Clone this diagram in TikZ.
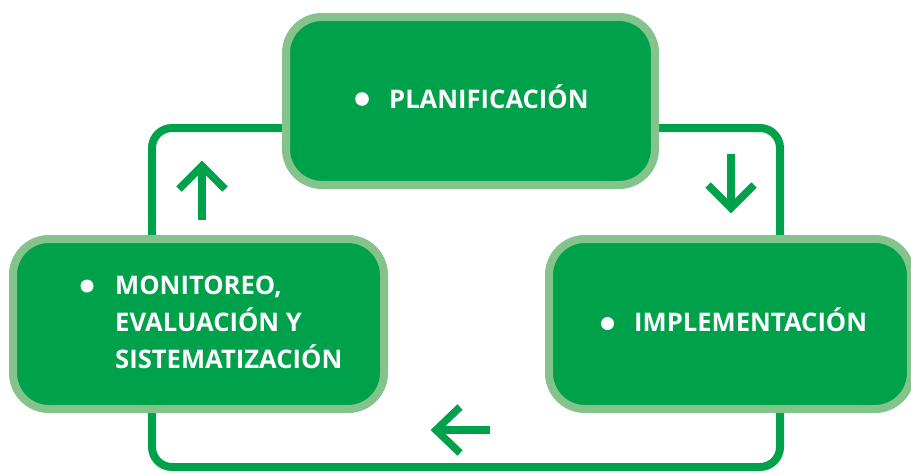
\documentclass[tikz,border=0pt]{standalone}
\usepackage{fontspec}
\setmainfont{Open Sans}
\definecolor{boxgreen}{HTML}{00A14B}
\definecolor{ringgreen}{HTML}{84C38C}
\tikzset{
  stage/.style={draw=ringgreen, fill=boxgreen, line width=8pt, rounded corners=36pt, inner sep=0pt},
  stagelabel/.style={text=white, font=\fontsize{25.6}{37}\selectfont\bfseries, inner sep=0pt, anchor=base west, align=left},
  loopline/.style={draw=boxgreen, line width=8pt, rounded corners=20pt},
  cyclearrow/.style={draw=boxgreen, line width=7.5pt, miter limit=10},
  bulletdot/.style={fill=white}
}
\begin{document}
\begin{tikzpicture}[x=1pt,y=-1pt]
\useasboundingbox (0,0) rectangle (911,474);
% loop behind the boxes
\draw[loopline] (152,128) rectangle (780,467);
% boxes
\node[stage, minimum width=369pt, minimum height=168pt] (plan) at (470.5,101) {};
\node[stage, minimum width=371pt, minimum height=170pt] (mon) at (198.5,324) {};
\node[stage, minimum width=362pt, minimum height=170pt] (impl) at (730,324) {};
% texts
\node[stagelabel] (plantext) at (389,108) {PLANIFICACIÓN};
\node[stagelabel] (impltext) at (634,331) {IMPLEMENTACIÓN};
\node[stagelabel] (montext) at (115,368) {MONITOREO,\\EVALUACIÓN Y\\SISTEMATIZACIÓN};
% bullets
\fill[bulletdot] (362,99) circle (6.8pt);
\fill[bulletdot] (607.5,323.5) circle (6.5pt);
\fill[bulletdot] (87,286) circle (6.5pt);
% arrows
\coordinate (upTip) at (202,166);
\draw[cyclearrow] (202,220) -- (upTip);
\draw[cyclearrow] (179,189) -- (upTip) -- (225,189);
\coordinate (downTip) at (731,208);
\draw[cyclearrow] (731,154) -- (downTip);
\draw[cyclearrow] (708,185) -- (downTip) -- (754,185);
\coordinate (leftTip) at (436,430);
\draw[cyclearrow] (490,430) -- (leftTip);
\draw[cyclearrow] (460,407) -- (leftTip) -- (460,453);
\end{tikzpicture}
\end{document}
